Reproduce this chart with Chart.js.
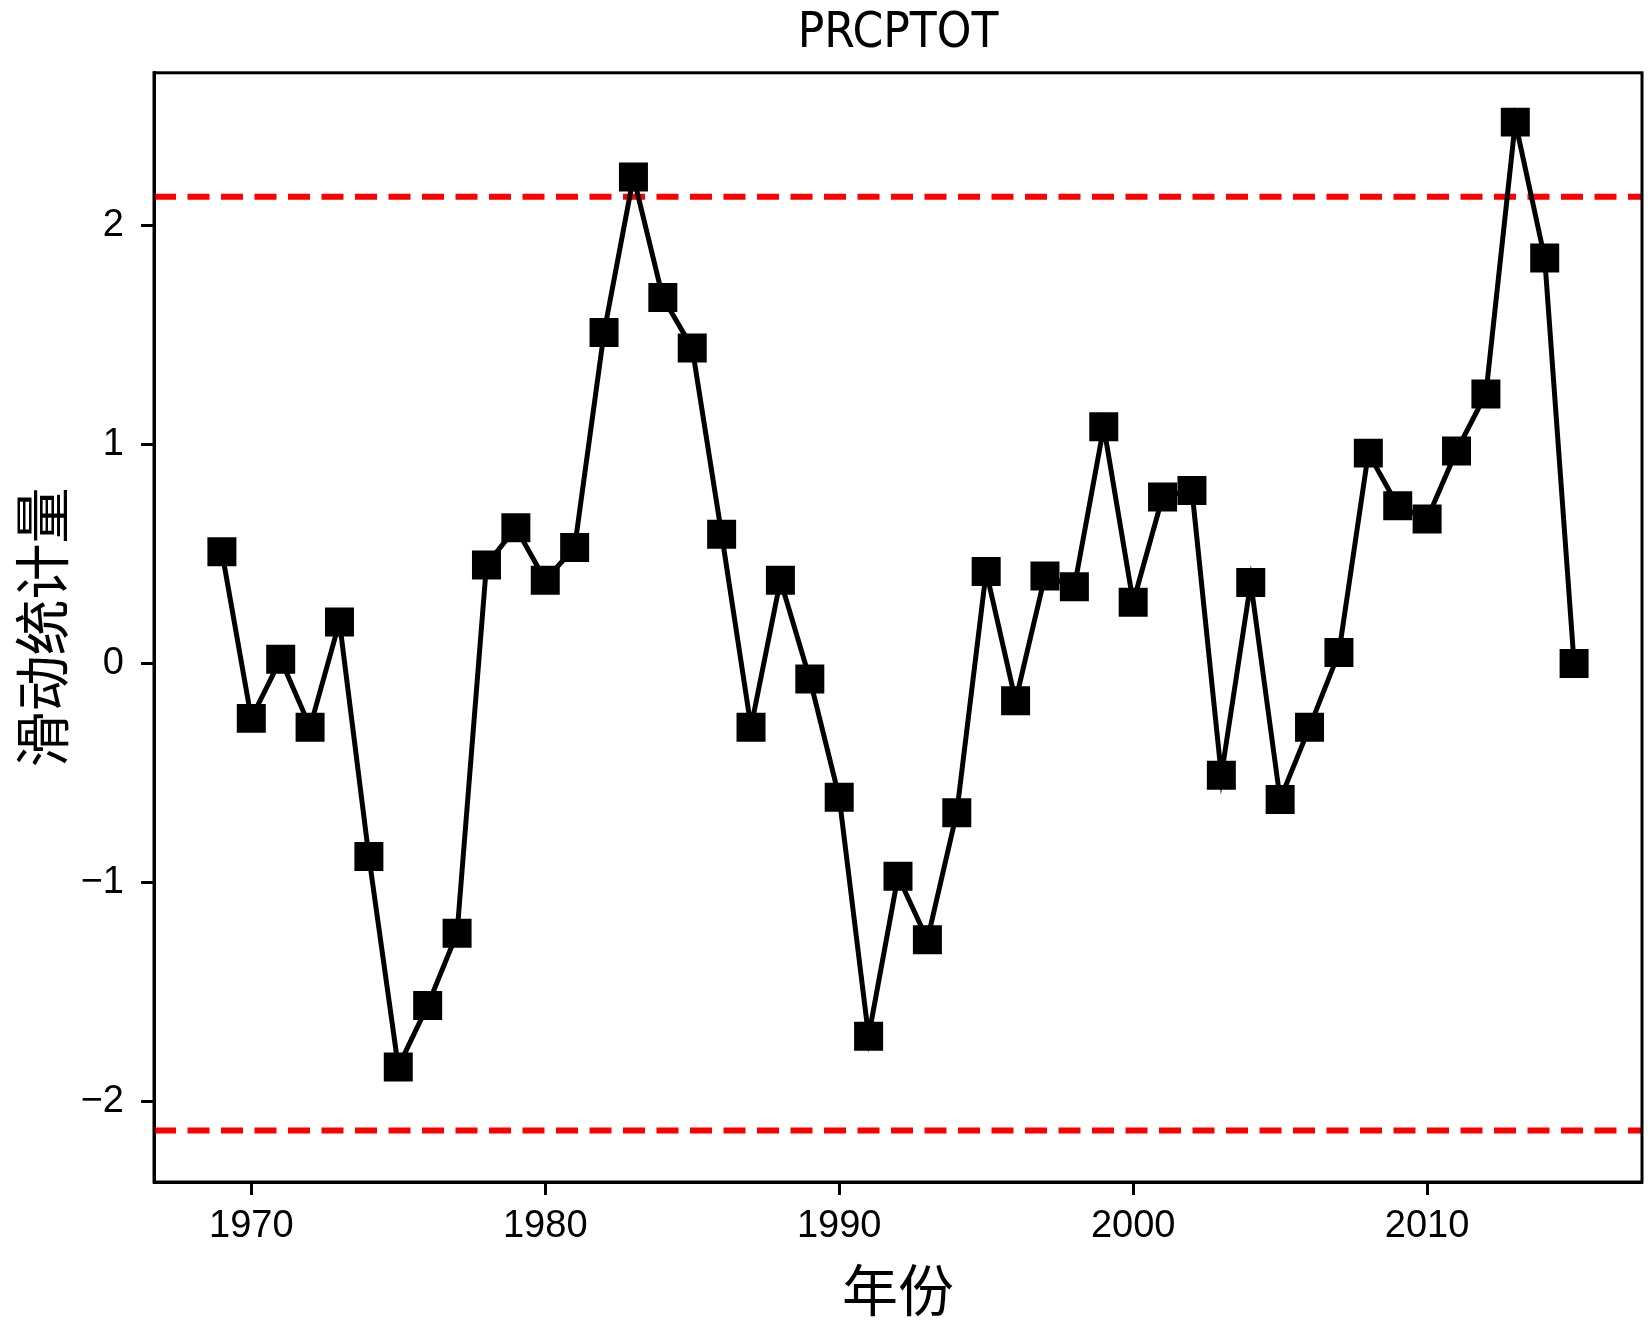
<!DOCTYPE html>
<html>
<head>
<meta charset="utf-8">
<title>PRCPTOT</title>
<script src="https://cdn.jsdelivr.net/npm/chart.js@4.4.1/dist/chart.umd.min.js"></script>
<style>
  html,body{margin:0;padding:0;background:#fff}
  canvas{display:block}
</style>
</head>
<body>
<canvas id="ufChart" width="1652" height="1322"></canvas>
<script>
// sliding statistic per year
const years = [1969,1970,1971,1972,1973,1974,1975,1976,1977,1978,1979,1980,1981,1982,1983,1984,1985,1986,1987,1988,1989,1990,1991,1992,1993,1994,1995,1996,1997,1998,1999,2000,2001,2002,2003,2004,2005,2006,2007,2008,2009,2010,2011,2012,2013,2014,2015];
const stat = [0.51,-0.25,0.02,-0.29,0.19,-0.88,-1.84,-1.56,-1.23,0.45,0.62,0.38,0.53,1.51,2.22,1.67,1.44,0.59,-0.29,0.38,-0.07,-0.61,-1.70,-0.97,-1.26,-0.68,0.42,-0.17,0.40,0.35,1.08,0.28,0.76,0.79,-0.51,0.37,-0.62,-0.29,0.05,0.96,0.72,0.66,0.97,1.23,2.47,1.85,0.00];
const critical = [2.13, -2.13];
const xTicks = [1970,1980,1990,2000,2010];
const yTicks = [-2,-1,0,1,2];
const xRange = [1966.69, 2017.31];
const yRange = [-2.365, 2.695];

const latin = "'Liberation Sans', Arial, sans-serif";
const cjk = "'Noto Sans CJK SC', 'Noto Sans CJK JP', sans-serif";

// matplotlib style box around the plot area
const frame = {
  id: 'frame',
  afterDatasetsDraw(chart) {
    const {ctx, chartArea: a} = chart;
    ctx.save();
    ctx.strokeStyle = '#000';
    ctx.lineWidth = 3;
    ctx.strokeRect(a.left, a.top, a.right - a.left, a.bottom - a.top);
    ctx.restore();
  }
};

function refLine(v) {
  return {
    data: xRange.map(x => ({x, y: v})),
    borderColor: '#ff0000', borderWidth: 6, borderDash: [22, 11.5],
    pointRadius: 0, fill: false, order: 2
  };
}

function axisCommon(ticks) {
  return {
    type: 'linear',
    afterBuildTicks: s => { s.ticks = ticks.map(v => ({value: v})); },
    grid: {drawOnChartArea: false, drawTicks: true, tickLength: 13, tickWidth: 3, tickColor: '#000'},
    border: {display: true, color: '#000', width: 3}
  };
}

function drawChart() {
  const el = document.getElementById('ufChart');
  new Chart(el, {
    type: 'line',
    data: {
      datasets: [
        {
          data: years.map((y, i) => ({x: y, y: stat[i]})),
          borderColor: '#000', borderWidth: 5, backgroundColor: '#000',
          pointStyle: 'rect', pointRadius: 20.5, pointBorderWidth: 0,
          pointBackgroundColor: '#000', tension: 0, fill: false, order: 1
        },
        ...critical.map(refLine)
      ]
    },
    options: {
      responsive: false, animation: false, devicePixelRatio: 1,
      layout: {autoPadding: false, padding: {left: 0, right: 10, top: 0, bottom: 0}},
      plugins: {
        legend: {display: false}, tooltip: {enabled: false},
        title: {
          display: true, text: 'PRCPTOT', fullSize: false, color: '#000',
          font: {family: "'DejaVu Sans Condensed', " + latin, size: 49, weight: 'normal', lineHeight: 1.2},
          padding: {top: 5, bottom: 9}
        }
      },
      scales: {
        x: {
          ...axisCommon(xTicks), position: 'bottom',
          min: xRange[0], max: xRange[1],
          afterFit: s => { s.height = 140; s.paddingLeft = 0; s.paddingRight = 0; },
          ticks: {color: '#000', padding: 9, maxRotation: 0, font: {family: latin, size: 38}, callback: v => String(v)},
          title: {display: true, text: '年份', color: '#000', font: {family: cjk, size: 56, lineHeight: 1}, padding: {top: 0, bottom: 4}}
        },
        y: {
          ...axisCommon(yTicks), position: 'left',
          min: yRange[0], max: yRange[1],
          afterFit: s => { s.width = 154; s.paddingTop = 0; s.paddingBottom = 0; },
          ticks: {color: '#000', padding: 17, font: {family: latin, size: 38}, callback: v => v < 0 ? '\u2212' + Math.abs(v) : String(v)},
          title: {display: true, text: '滑动统计量', color: '#000', font: {family: cjk, size: 56, lineHeight: 1}, padding: {top: 14, bottom: 0}}
        }
      }
    },
    plugins: [frame]
  });
}

document.addEventListener('DOMContentLoaded', drawChart);
</script>
</body>
</html>
